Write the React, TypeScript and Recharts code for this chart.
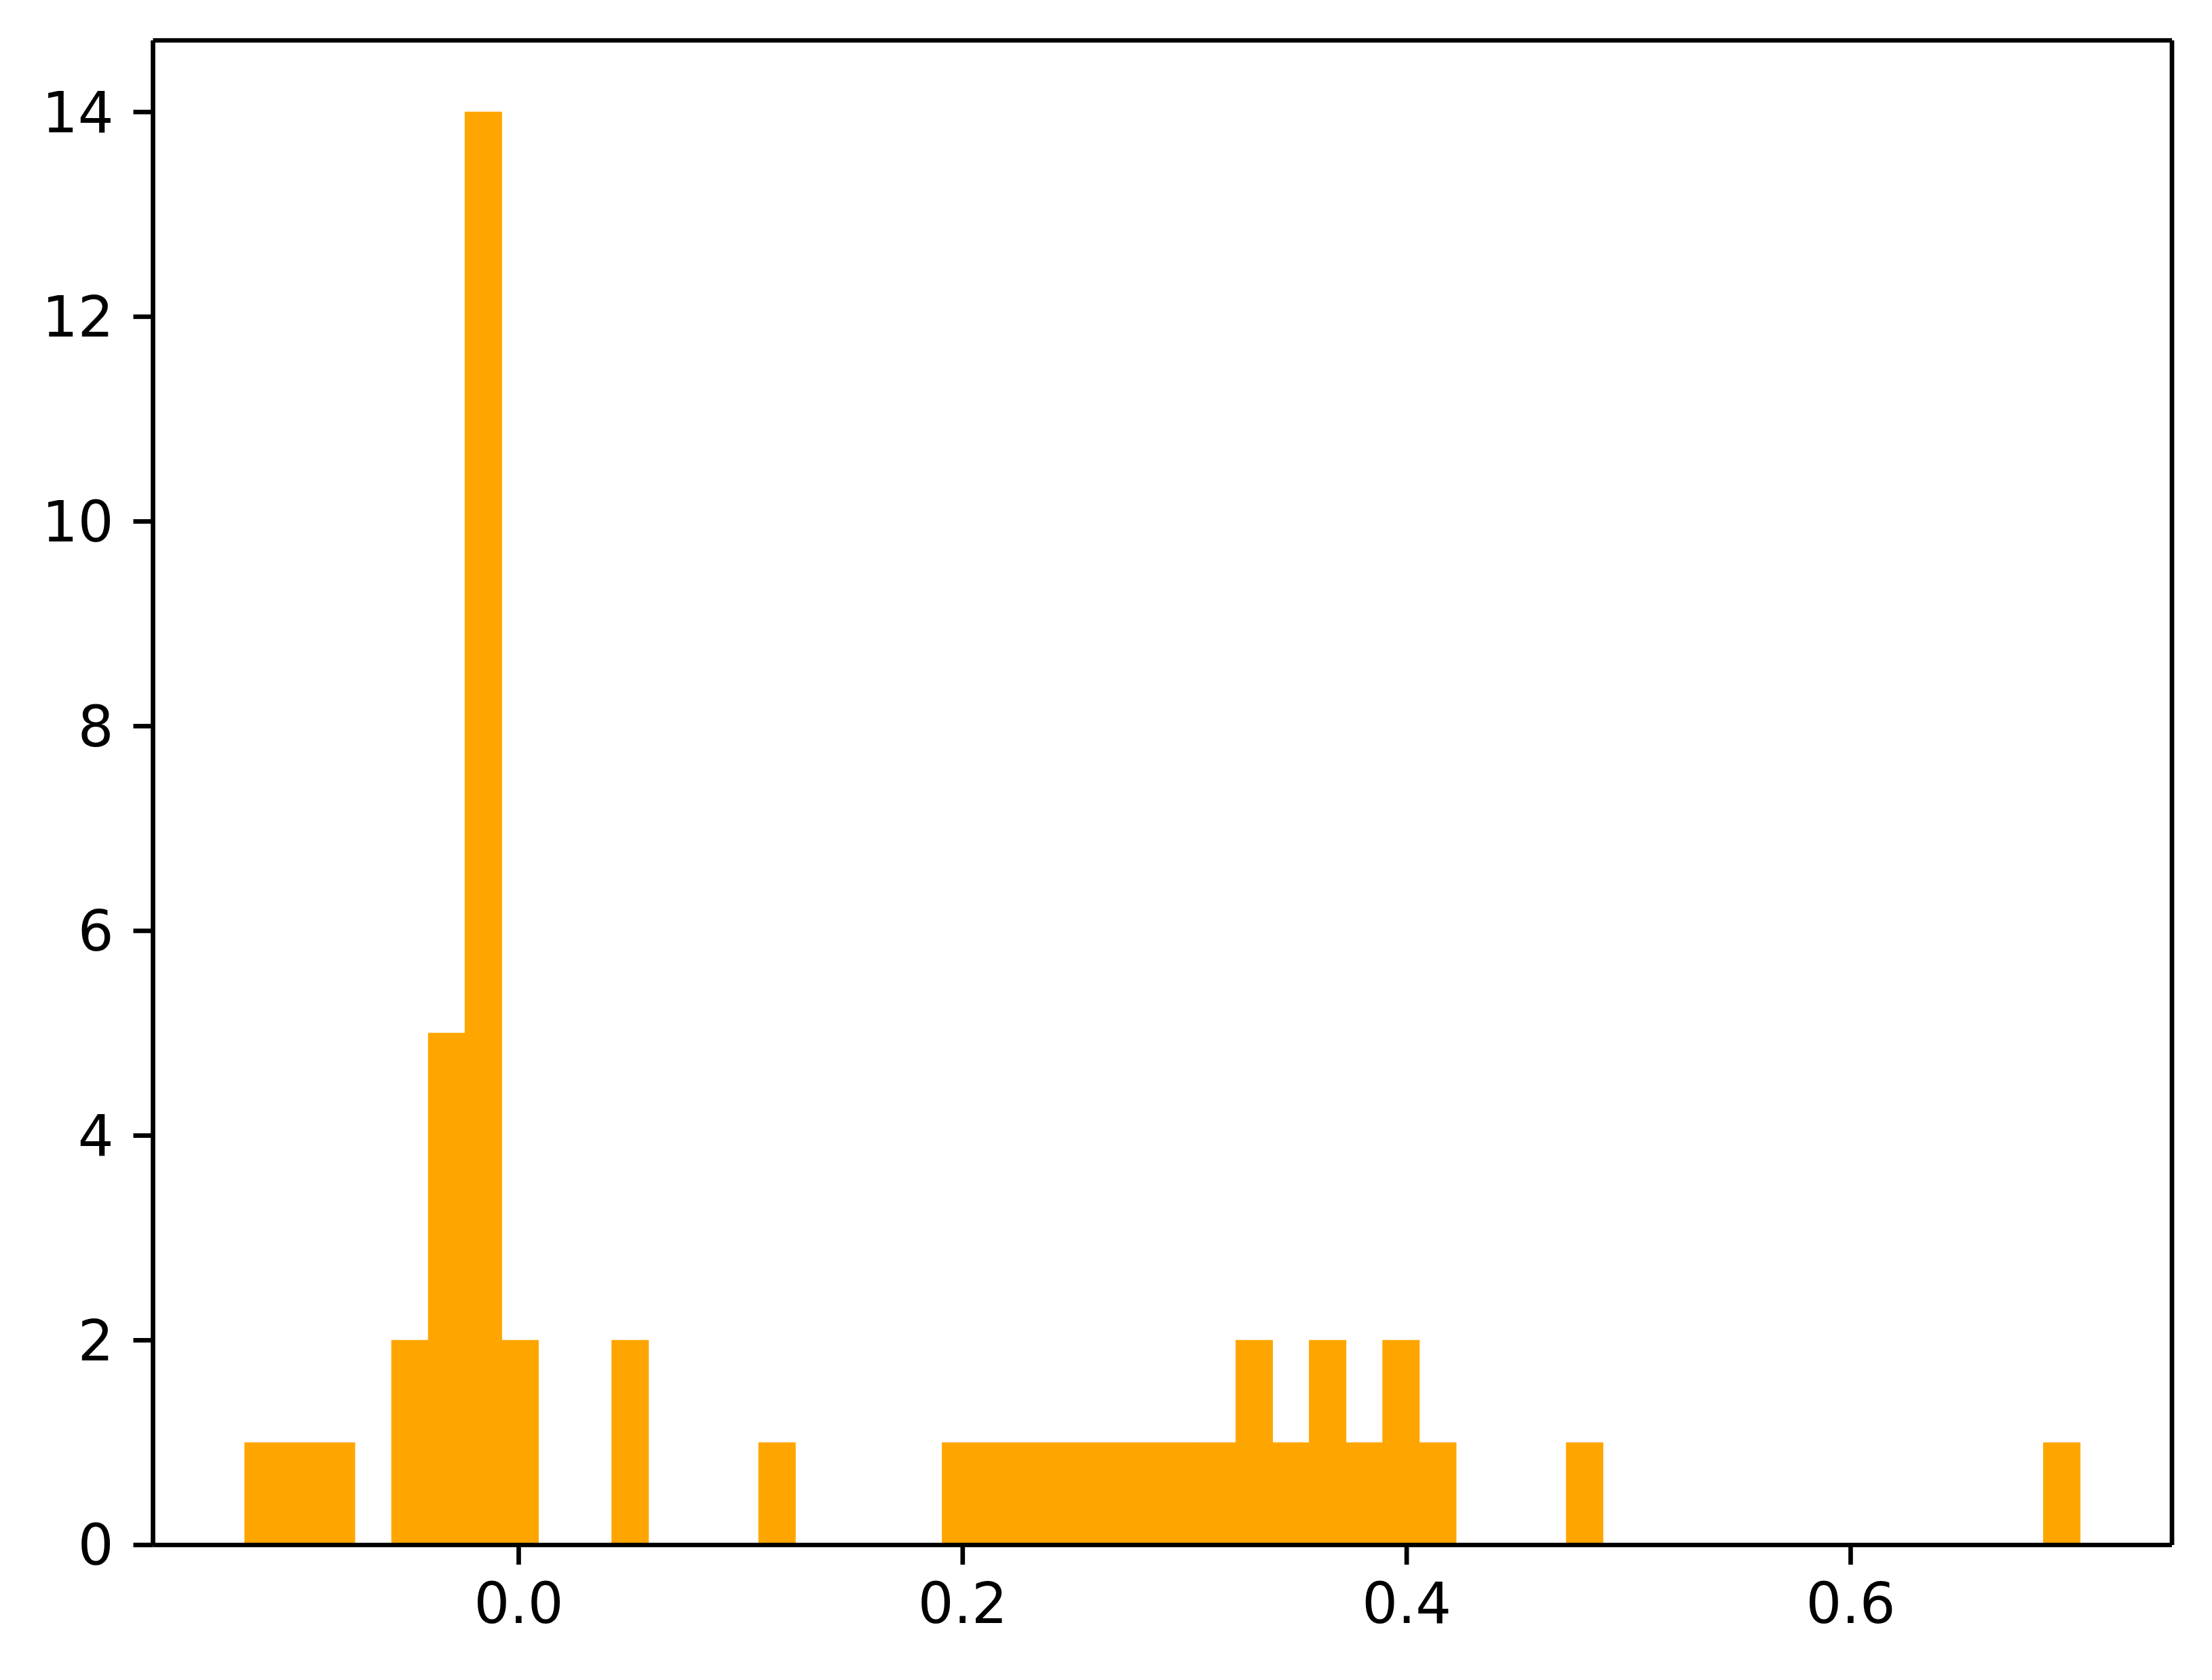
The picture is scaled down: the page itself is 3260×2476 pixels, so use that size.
import { Bar, BarChart, XAxis, YAxis } from 'recharts';

// histogram: 50 equal bins between the smallest and largest sample
const histMin = -0.1234;
const histMax = 0.7034;
const counts = [
  1, 1, 1, 0, 2, 5, 14, 2, 0, 0,
  2, 0, 0, 0, 1, 0, 0, 0, 0, 1,
  1, 1, 1, 1, 1, 1, 1, 2, 1, 2,
  1, 2, 1, 0, 0, 0, 1, 0, 0, 0,
  0, 0, 0, 0, 0, 0, 0, 0, 0, 1,
];
const xTicks = [0, 0.2, 0.4, 0.6];
const yTicks = [0, 2, 4, 6, 8, 10, 12, 14];

const binWidth = (histMax - histMin) / counts.length;
const data = counts.map((count, i) => ({
  bin: Number((histMin + binWidth * (i + 0.5)).toFixed(4)),
  count,
}));

const W = 3260;
const H = 2476;
const margin = { top: 58.5, right: 58, bottom: 0, left: 0 };
const yAxisWidth = 225.5;
const xAxisHeight = 199;
const plotWidth = W - margin.left - margin.right - 1 - yAxisWidth;
const edgePad = plotWidth / 22; // matplotlib 5% x-margin
const span = histMax - histMin;
const xDomain = [histMin - span * 0.05, histMax + span * 0.05];

const font = {
  fontFamily: 'DejaVu Sans',
  fontSize: 83,
  fill: '#000',
};
const line = { stroke: '#000', strokeWidth: 6.7 };

export default function App() {
  return (
    <div style={{ position: 'absolute', left: 0, top: 0, background: '#fff' }}>
      <BarChart
        width={W}
        height={H}
        data={data}
        margin={margin}
        barCategoryGap={0}
        barGap={0}
      >
        <Bar
          dataKey='count'
          xAxisId='bins'
          fill='#ffa500'
          stroke='#ffa500'
          strokeWidth={1}
          isAnimationActive={false}
        />
        <XAxis
          xAxisId='bins'
          dataKey='bin'
          type='category'
          hide
          height={0}
          padding={{ left: edgePad, right: edgePad }}
        />
        <XAxis
          xAxisId='val'
          dataKey='bin'
          type='number'
          domain={xDomain}
          allowDataOverflow
          ticks={xTicks}
          tickFormatter={(v) => v.toFixed(1)}
          height={xAxisHeight}
          tick={font}
          tickSize={29}
          tickMargin={27}
          axisLine={line}
          tickLine={line}
        />
        <XAxis
          xAxisId='top'
          dataKey='bin'
          orientation='top'
          type='number'
          domain={xDomain}
          allowDataOverflow
          height={1}
          tick={false}
          tickLine={false}
          axisLine={line}
        />
        <YAxis
          domain={[0, 14.7]}
          allowDataOverflow
          ticks={yTicks}
          width={yAxisWidth}
          tick={font}
          tickSize={29}
          tickMargin={29}
          axisLine={line}
          tickLine={line}
        />
        <YAxis
          yAxisId='right'
          dataKey='count'
          orientation='right'
          domain={[0, 14.7]}
          allowDataOverflow
          width={1}
          tick={false}
          tickLine={false}
          axisLine={line}
        />
      </BarChart>
    </div>
  );
}
